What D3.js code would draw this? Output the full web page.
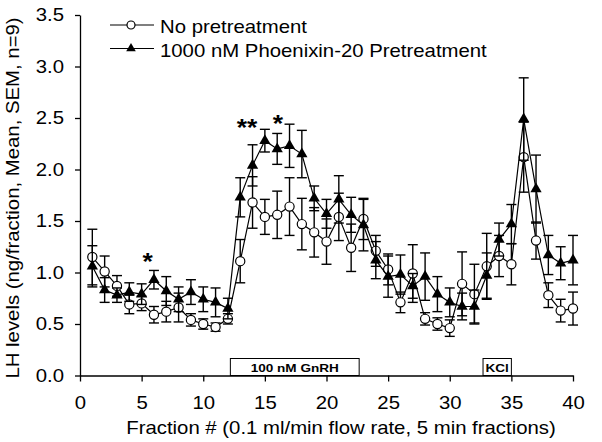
<!DOCTYPE html>
<html>
<head>
<meta charset="utf-8">
<script src="https://cdn.jsdelivr.net/npm/d3@7"></script>
<style>
  body { margin: 0; background: #fff; }
  svg { display: block; font-family: "Liberation Sans", Arial, sans-serif; }
</style>
</head>
<body>
<script>
// fraction numbers 1..40
const fractions = d3.range(1, 41);

// circles: no pretreatment (mean, SEM)
const noPretreatment = [1.15, 1.01, 0.87, 0.69, 0.70, 0.59, 0.62, 0.66, 0.54, 0.50,
  0.47, 0.55, 1.11, 1.68, 1.54, 1.56, 1.64, 1.47, 1.39, 1.30,
  1.54, 1.24, 1.52, 1.21, 1.03, 0.71, 0.99, 0.55, 0.50, 0.46,
  0.89, 0.79, 1.06, 1.16, 1.08, 2.12, 1.31, 0.78, 0.63, 0.65];
const noPretreatmentSem = [0.27, 0.15, 0.10, 0.09, 0.07, 0.08, 0.10, 0.14, 0.06, 0.05,
  0.04, 0.05, 0.21, 0.25, 0.17, 0.23, 0.28, 0.25, 0.24, 0.22,
  0.23, 0.23, 0.20, 0.15, 0.15, 0.10, 0.28, 0.06, 0.06, 0.08,
  0.31, 0.29, 0.32, 0.20, 0.20, 0.34, 0.18, 0.12, 0.11, 0.16];

// triangles: 1000 nM Phoenixin-20 pretreatment (mean, SEM)
const phoenixin = [1.06, 0.83, 0.78, 0.81, 0.79, 0.93, 0.82, 0.74, 0.81, 0.74,
  0.71, 0.65, 1.73, 2.04, 2.28, 2.20, 2.23, 2.15, 1.72, 1.57,
  1.71, 1.56, 1.46, 1.12, 0.96, 0.98, 0.87, 0.96, 0.79, 0.71,
  0.67, 0.67, 0.97, 1.32, 1.47, 2.49, 1.81, 1.17, 1.09, 1.12];
const phoenixinSem = [0.20, 0.12, 0.07, 0.09, 0.10, 0.09, 0.14, 0.12, 0.12, 0.12,
  0.14, 0.10, 0.19, 0.20, 0.11, 0.15, 0.21, 0.23, 0.12, 0.14,
  0.23, 0.17, 0.25, 0.18, 0.20, 0.19, 0.12, 0.23, 0.17, 0.14,
  0.13, 0.16, 0.22, 0.16, 0.19, 0.40, 0.33, 0.19, 0.16, 0.24];

const seriesNames = ["No pretreatment", "1000 nM Phoenixin-20 Pretreatment"];

// treatment periods (fraction start, end, label)
const treatments = [
  { start: 12.2, end: 22.65, label: "100 nM GnRH" },
  { start: 32.7, end: 35.0, label: "KCl" }
];

// significance marks (fraction, value, text)
const stars = [
  { f: 5.5, v: 1.15, text: "*" },
  { f: 13.55, v: 2.45, text: "**" },
  { f: 16.05, v: 2.49, text: "*" }
];

const xTicks = d3.range(0, 41, 5);
const yTicks = d3.range(0, 3.51, 0.5);

const width = 602, height = 442;
const FONT = 17.7;
// the original's lettering runs wider than Arial at the same cap height
const STRETCH = 1.15;

const svg = d3.select("body").append("svg")
  .attr("width", width)
  .attr("height", height);

const x = d3.scaleLinear().domain([0, 40]).range([80, 573]);
const y = d3.scaleLinear().domain([0, 3.5]).range([375.5, 15]);

// axes
const xAxis = svg.append("g")
  .attr("transform", `translate(0,${y(0)})`)
  .call(d3.axisBottom(x).tickValues(xTicks).tickSize(6).tickSizeOuter(0).tickPadding(15));
const yAxis = svg.append("g")
  .attr("transform", `translate(${x(0)},0)`)
  .call(d3.axisLeft(y).tickValues(yTicks).tickFormat(d3.format(".1f")).tickSize(5).tickSizeOuter(0).tickPadding(11));

[xAxis, yAxis].forEach(g => {
  g.selectAll("path, line").attr("stroke", "#000").attr("stroke-width", 1.3);
  g.selectAll("text").attr("fill", "#000").attr("font-size", FONT)
    .attr("font-family", "'Liberation Sans', Arial, sans-serif");
});

// axis titles
svg.append("text")
  .attr("x", 341).attr("y", 434)
  .attr("text-anchor", "middle")
  .attr("font-size", FONT)
  .text("Fraction # (0.1 ml/min flow rate, 5 min fractions)");

svg.append("text")
  .attr("transform", "translate(19,198) rotate(-90)")
  .attr("text-anchor", "middle")
  .attr("font-size", FONT)
  .text("LH levels (ng/fraction, Mean, SEM, n=9)");

// treatment boxes
const tg = svg.append("g");
tg.selectAll("rect").data(treatments).enter().append("rect")
  .attr("x", d => x(d.start))
  .attr("y", y(0) - 17)
  .attr("width", d => x(d.end) - x(d.start))
  .attr("height", 17)
  .attr("fill", "#fff")
  .attr("stroke", "#000")
  .attr("stroke-width", 1);
tg.selectAll("text").data(treatments).enter().append("text")
  .attr("x", d => (x(d.start) + x(d.end)) / 2)
  .attr("y", y(0) - 3.5)
  .attr("text-anchor", "middle")
  .attr("font-size", 11.8)
  .attr("font-weight", "bold")
  .text(d => d.label);

const triangle = d3.symbol().type(d3.symbolTriangle).size(55);

function drawSeries(values, sems, shape) {
  const data = fractions.map((f, i) => ({ f, v: values[i], e: sems[i] }));
  const g = svg.append("g");

  g.append("path")
    .datum(data)
    .attr("fill", "none")
    .attr("stroke", "#000")
    .attr("stroke-width", 1.2)
    .attr("d", d3.line().x(d => x(d.f)).y(d => y(d.v)));

  const eb = g.selectAll("g.err").data(data).enter().append("g")
    .attr("stroke", "#000").attr("stroke-width", 1.4);
  eb.append("line")
    .attr("x1", d => x(d.f)).attr("x2", d => x(d.f))
    .attr("y1", d => y(d.v - d.e)).attr("y2", d => y(d.v + d.e));
  eb.append("line")
    .attr("x1", d => x(d.f) - 5).attr("x2", d => x(d.f) + 5)
    .attr("y1", d => y(d.v + d.e)).attr("y2", d => y(d.v + d.e));
  eb.append("line")
    .attr("x1", d => x(d.f) - 5).attr("x2", d => x(d.f) + 5)
    .attr("y1", d => y(d.v - d.e)).attr("y2", d => y(d.v - d.e));

  if (shape === "circle") {
    g.selectAll("circle").data(data).enter().append("circle")
      .attr("cx", d => x(d.f)).attr("cy", d => y(d.v))
      .attr("r", 4.6)
      .attr("fill", "#fff").attr("stroke", "#000").attr("stroke-width", 1.2);
  } else {
    g.selectAll("path.tri").data(data).enter().append("path")
      .attr("class", "tri")
      .attr("transform", d => `translate(${x(d.f)},${y(d.v)})`)
      .attr("d", triangle)
      .attr("fill", "#000");
  }
}

drawSeries(noPretreatment, noPretreatmentSem, "circle");
drawSeries(phoenixin, phoenixinSem, "triangle");

// significance stars
svg.selectAll("text.star").data(stars).enter().append("text")
  .attr("class", "star")
  .attr("x", d => x(d.f))
  .attr("y", d => y(d.v) + 13)
  .attr("text-anchor", "middle")
  .attr("font-size", 23)
  .attr("font-weight", "bold")
  .text(d => d.text);

// legend
const legend = svg.append("g");
const rows = [{ name: seriesNames[0], shape: "circle", ly: 25, ty: 33 },
              { name: seriesNames[1], shape: "triangle", ly: 48.5, ty: 56.5 }];
rows.forEach(r => {
  legend.append("line")
    .attr("x1", 110).attr("x2", 154)
    .attr("y1", r.ly).attr("y2", r.ly)
    .attr("stroke", "#000").attr("stroke-width", 1.2);
  if (r.shape === "circle") {
    legend.append("circle").attr("cx", 131).attr("cy", r.ly).attr("r", 4)
      .attr("fill", "#fff").attr("stroke", "#000").attr("stroke-width", 1.2);
  } else {
    legend.append("path").attr("transform", `translate(131,${r.ly})`)
      .attr("d", d3.symbol().type(d3.symbolTriangle).size(40)).attr("fill", "#000");
  }
  legend.append("text")
    .attr("x", 160).attr("y", r.ty)
    .attr("font-size", FONT)
    .text(r.name);
});

// widen every label to match the original lettering
svg.selectAll("text").each(function () {
  const len = this.getComputedTextLength();
  this.setAttribute("textLength", len * STRETCH);
  this.setAttribute("lengthAdjust", "spacingAndGlyphs");
});
</script>
</body>
</html>
